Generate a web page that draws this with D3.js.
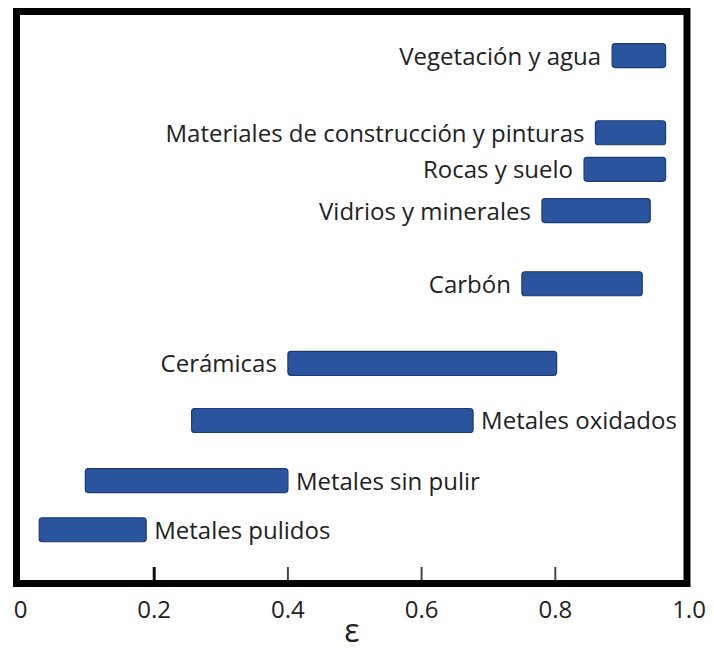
<!DOCTYPE html>
<html>
<head>
<meta charset="utf-8">
<script src="https://cdn.jsdelivr.net/npm/d3@7"></script>
<style>
  body { margin: 0; padding: 0; background: #fff; }
  text { font-family: "Open Sans", sans-serif; fill: #222; }
</style>
</head>
<body>
<script>
// emisividad por tipo de material
const materiales = [
  "Vegetación y agua",
  "Materiales de construcción y pinturas",
  "Rocas y suelo",
  "Vidrios y minerales",
  "Carbón",
  "Cerámicas",
  "Metales oxidados",
  "Metales sin pulir",
  "Metales pulidos"
]
const epsMin = [0.885, 0.86, 0.843, 0.78, 0.75, 0.40, 0.256, 0.097, 0.028]
const epsMax = [0.965, 0.965, 0.965, 0.942, 0.93, 0.802, 0.677, 0.40, 0.188]
// altura de cada fila (0 abajo, 10 arriba)
const nivel = [9.23, 7.88, 7.24, 6.52, 5.24, 3.85, 2.85, 1.80, 0.94]
// lado de la etiqueta
const lado = ["izq", "izq", "izq", "izq", "izq", "izq", "der", "der", "der"]

const ticks = [0, 0.2, 0.4, 0.6, 0.8, 1.0]
const tickLabels = ["0", "0.2", "0.4", "0.6", "0.8", "1.0"]

const width = 714
const height = 652

const rows = materiales.map((m, i) => ({
  name: m, lo: epsMin[i], hi: epsMax[i], nivel: nivel[i], lado: lado[i]
}))

const x = d3.scaleLinear().domain([0, 1]).range([20.5, 689])
const y = d3.scaleLinear().domain([0, 10]).range([583.5, 11.5])

const svg = d3.select("body").append("svg")
  .attr("width", width)
  .attr("height", height)

// marco
svg.append("rect")
  .attr("x", 16.5)
  .attr("y", 11.5)
  .attr("width", 670.5)
  .attr("height", 572)
  .attr("fill", "none")
  .attr("stroke", "#000")
  .attr("stroke-width", 7)

// marcas del eje (solo las interiores)
svg.append("g")
  .selectAll("line")
  .data(ticks.slice(1, -1))
  .join("line")
  .attr("x1", d => x(d))
  .attr("x2", d => x(d))
  .attr("y1", 580)
  .attr("y2", 567)
  .attr("stroke", (d, i) => i == 0 ? "#111" : "#444")
  .attr("stroke-width", (d, i) => i == 0 ? 3 : 2)

svg.append("g")
  .selectAll("text")
  .data(ticks)
  .join("text")
  .attr("x", d => x(d))
  .attr("y", 618)
  .attr("text-anchor", "middle")
  .attr("font-size", 24)
  .text((d, i) => tickLabels[i])

svg.append("text")
  .attr("x", 352)
  .attr("y", 642)
  .attr("text-anchor", "middle")
  .attr("font-size", 32)
  .text("ε")

const barH = 24

svg.append("g")
  .selectAll("rect")
  .data(rows)
  .join("rect")
  .attr("x", d => x(d.lo))
  .attr("y", d => y(d.nivel) - barH / 2)
  .attr("width", d => x(d.hi) - x(d.lo))
  .attr("height", barH)
  .attr("rx", 3)
  .attr("fill", "#2b549e")
  .attr("stroke", "#1d3b73")
  .attr("stroke-width", 1.2)

svg.append("g")
  .selectAll("text")
  .data(rows)
  .join("text")
  .attr("x", d => d.lado == "izq" ? x(d.lo) - 11 : x(d.hi) + 8)
  .attr("y", d => y(d.nivel) + 9)
  .attr("text-anchor", d => d.lado == "izq" ? "end" : "start")
  .attr("font-size", 24)
  .text(d => d.name)
</script>
</body>
</html>
